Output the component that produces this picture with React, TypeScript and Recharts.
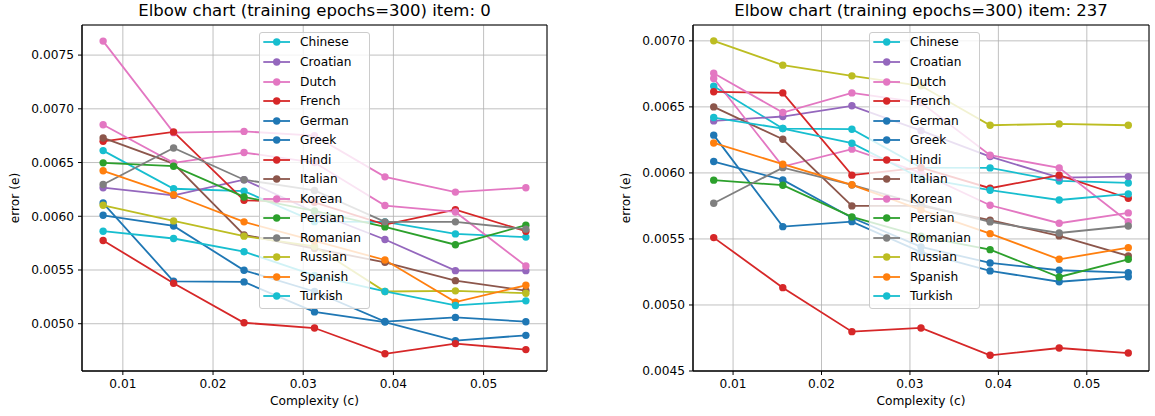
import React from "react";
import { LineChart, Line, XAxis, YAxis, CartesianGrid, Legend, ReferenceArea } from "recharts";

// complexity values on the x axis (multiples of 1/128)
const complexity = [0.0078125, 0.015625, 0.0234375, 0.03125, 0.0390625, 0.046875, 0.0546875];

const languages = [
  "Chinese", "Croatian", "Dutch", "French", "German", "Greek", "Hindi",
  "Italian", "Korean", "Persian", "Romanian", "Russian", "Spanish", "Turkish",
];

const colors = [
  "#17becf", "#9467bd", "#e377c2", "#d62728", "#1f77b4", "#1f77b4", "#d62728",
  "#8c564b", "#e377c2", "#2ca02c", "#7f7f7f", "#bcbd22", "#ff7f0e", "#17becf",
];

// one row per language, same order as `languages`
const errorsItem0 = [
  [0.006611, 0.006256, 0.006234, 0.00595, 0.005948, 0.005836, 0.005806],
  [0.006266, 0.006194, 0.00634, 0.00604, 0.005784, 0.005494, 0.005494],
  [0.00763, 0.006778, 0.00679, 0.00675, 0.006367, 0.006225, 0.006266],
  [0.006697, 0.006785, 0.006148, 0.00613, 0.005923, 0.006062, 0.005861],
  [0.006009, 0.00591, 0.005497, 0.0053, 0.00502, 0.005059, 0.005019],
  [0.006123, 0.005395, 0.005389, 0.00511, 0.005015, 0.004843, 0.004892],
  [0.005775, 0.005377, 0.005009, 0.00496, 0.00472, 0.004815, 0.004759],
  [0.006729, 0.00649, 0.005827, 0.0057, 0.005571, 0.005401, 0.005308],
  [0.006852, 0.006497, 0.006593, 0.0065, 0.0061, 0.00604, 0.005537],
  [0.006497, 0.006466, 0.00618, 0.00605, 0.005901, 0.005735, 0.005917],
  [0.006296, 0.006636, 0.00634, 0.00624, 0.005948, 0.005948, 0.00588],
  [0.006102, 0.005957, 0.005815, 0.00572, 0.0053, 0.005306, 0.005284],
  [0.006423, 0.0062, 0.005948, 0.00577, 0.005593, 0.005201, 0.005358],
  [0.005861, 0.005793, 0.00567, 0.00545, 0.0053, 0.00517, 0.005213],
];

const errorsItem237 = [
  [0.006657, 0.006336, 0.006331, 0.00604, 0.006038, 0.005939, 0.005924],
  [0.006394, 0.006427, 0.006508, 0.00632, 0.006124, 0.005964, 0.005972],
  [0.006715, 0.006048, 0.00618, 0.006, 0.005755, 0.005619, 0.005697],
  [0.006614, 0.006606, 0.005983, 0.00604, 0.005884, 0.005983, 0.005808],
  [0.006086, 0.005947, 0.00566, 0.00544, 0.005318, 0.005263, 0.005245],
  [0.006286, 0.005593, 0.005631, 0.0054, 0.005258, 0.005176, 0.005214],
  [0.00551, 0.005131, 0.004798, 0.004826, 0.004619, 0.004674, 0.004636],
  [0.0065, 0.006255, 0.00575, 0.00575, 0.005642, 0.005523, 0.005371],
  [0.006755, 0.006457, 0.006606, 0.006533, 0.006134, 0.006038, 0.00563],
  [0.005945, 0.005907, 0.005667, 0.00552, 0.005419, 0.005212, 0.005346],
  [0.00577, 0.00604, 0.005909, 0.00576, 0.005629, 0.005545, 0.005598],
  [0.007, 0.006816, 0.006735, 0.00666, 0.006361, 0.006371, 0.006361],
  [0.006227, 0.006066, 0.00591, 0.00572, 0.00554, 0.005346, 0.005434],
  [0.006419, 0.006336, 0.006225, 0.00596, 0.005869, 0.005795, 0.005841],
];

const xTicks = [0.01, 0.02, 0.03, 0.04, 0.05];
const yTicksItem0 = [0.005, 0.0055, 0.006, 0.0065, 0.007, 0.0075];
const yTicksItem237 = [0.0045, 0.005, 0.0055, 0.006, 0.0065, 0.007];

const FONT = '"DejaVu Sans", sans-serif';
const X_DOMAIN: [number, number] = [0.00547, 0.05703];

function toRows(errors: number[][]) {
  return complexity.map((c, i) => {
    const row: Record<string, number> = { c };
    languages.forEach((lang, j) => {
      row[lang] = errors[j][i];
    });
    return row;
  });
}

function LegendBox({ payload }: any) {
  return (
    <div
      style={{
        background: "rgba(255,255,255,0.8)",
        border: "1px solid #cccccc",
        borderRadius: 3,
        width: 111,
        height: 277,
        boxSizing: "border-box",
        fontFamily: FONT,
        fontSize: 12.2,
        color: "#000",
      }}
    >
      {(payload ?? []).map((entry: any) => (
        <div key={entry.value} style={{ height: 19.54, display: "flex", alignItems: "center" }}>
          <svg width={36} height={12} style={{ display: "block", flex: "none" }}>
            <line x1={3.3} x2={30} y1={6} y2={6} stroke={entry.color} strokeWidth={1.8} />
            <circle cx={16.7} cy={6} r={3.7} fill={entry.color} />
          </svg>
          <span style={{ marginLeft: 4, whiteSpace: "nowrap" }}>{entry.value}</span>
        </div>
      ))}
    </div>
  );
}

interface ElbowProps {
  title: string;
  errors: number[][];
  yDomain: [number, number];
  yTicks: number[];
  left: number;
  width: number;
  margin: { top: number; right: number; bottom: number; left: number };
  legendLeft: number;
  yLabelX: number;
}

function ElbowChart({ title, errors, yDomain, yTicks, left, width, margin, legendLeft, yLabelX }: ElbowProps) {
  const data = toRows(errors);
  const plotLeft = margin.left + 62;
  const plotWidth = width - margin.right - plotLeft;
  const tickStyle = { fill: "#000", fontSize: 12.2, fontFamily: FONT };
  return (
    <div style={{ position: "absolute", left, top: 0, width, height: 416 }}>
      <LineChart width={width} height={416} data={data} margin={margin}>
        <CartesianGrid stroke="#b0b0b0" strokeWidth={0.8} />
        <XAxis
          dataKey="c"
          type="number"
          domain={X_DOMAIN}
          ticks={xTicks}
          allowDataOverflow
          tickFormatter={(v: number) => v.toFixed(2)}
          stroke="#000"
          tick={tickStyle}
          tickSize={4}
          tickMargin={4}
          height={30}
        />
        <YAxis
          type="number"
          domain={yDomain}
          ticks={yTicks}
          allowDataOverflow
          tickFormatter={(v: number) => v.toFixed(4)}
          stroke="#000"
          tick={tickStyle}
          tickSize={4}
          tickMargin={4}
          width={62}
        />
        <ReferenceArea
          x1={X_DOMAIN[0]}
          x2={X_DOMAIN[1]}
          y1={yDomain[0]}
          y2={yDomain[1]}
          fill="none"
          stroke="#000"
          strokeWidth={1}
          ifOverflow="visible"
        />
        {languages.map((lang, j) => (
          <Line
            key={lang}
            dataKey={lang}
            name={lang}
            stroke={colors[j]}
            strokeWidth={1.8}
            dot={{ r: 3.7, fill: colors[j], stroke: colors[j], strokeWidth: 0 }}
            activeDot={false}
            isAnimationActive={false}
          />
        ))}
        <Legend
          layout="vertical"
          align="center"
          verticalAlign="middle"
          wrapperStyle={{ left: legendLeft, top: 31.7, width: 111, height: 277 }}
          content={LegendBox}
        />
      </LineChart>
      <div
        style={{
          position: "absolute",
          left: plotLeft,
          width: plotWidth,
          top: 1,
          textAlign: "center",
          fontFamily: FONT,
          fontSize: 16.5,
          lineHeight: "19px",
          whiteSpace: "nowrap",
        }}
      >
        {title}
      </div>
      <div
        style={{
          position: "absolute",
          left: plotLeft,
          width: plotWidth,
          top: 394,
          textAlign: "center",
          fontFamily: FONT,
          fontSize: 12.2,
          lineHeight: "15px",
        }}
      >
        Complexity (c)
      </div>
      <div
        style={{
          position: "absolute",
          left: yLabelX - 40,
          top: 198 - 8,
          width: 80,
          height: 16,
          lineHeight: "16px",
          textAlign: "center",
          fontFamily: FONT,
          fontSize: 12.2,
          transform: "rotate(-90deg)",
          whiteSpace: "nowrap",
        }}
      >
        error (e)
      </div>
    </div>
  );
}

export default function App() {
  return (
    <div style={{ position: "fixed", left: 0, top: 0, width: 1155, height: 416, background: "#fff", overflow: "hidden" }}>
      <ElbowChart
        title="Elbow chart (training epochs=300) item: 0"
        errors={errorsItem0}
        yDomain={[0.00456, 0.00778]}
        yTicks={yTicksItem0}
        left={0}
        width={577}
        margin={{ top: 25, right: 30, bottom: 15, left: 20 }}
        legendLeft={259}
        yLabelX={15}
      />
      <ElbowChart
        title="Elbow chart (training epochs=300) item: 237"
        errors={errorsItem237}
        yDomain={[0.0045, 0.00712]}
        yTicks={yTicksItem237}
        left={577}
        width={578}
        margin={{ top: 25, right: 6, bottom: 15, left: 54 }}
        legendLeft={292}
        yLabelX={49}
      />
    </div>
  );
}
